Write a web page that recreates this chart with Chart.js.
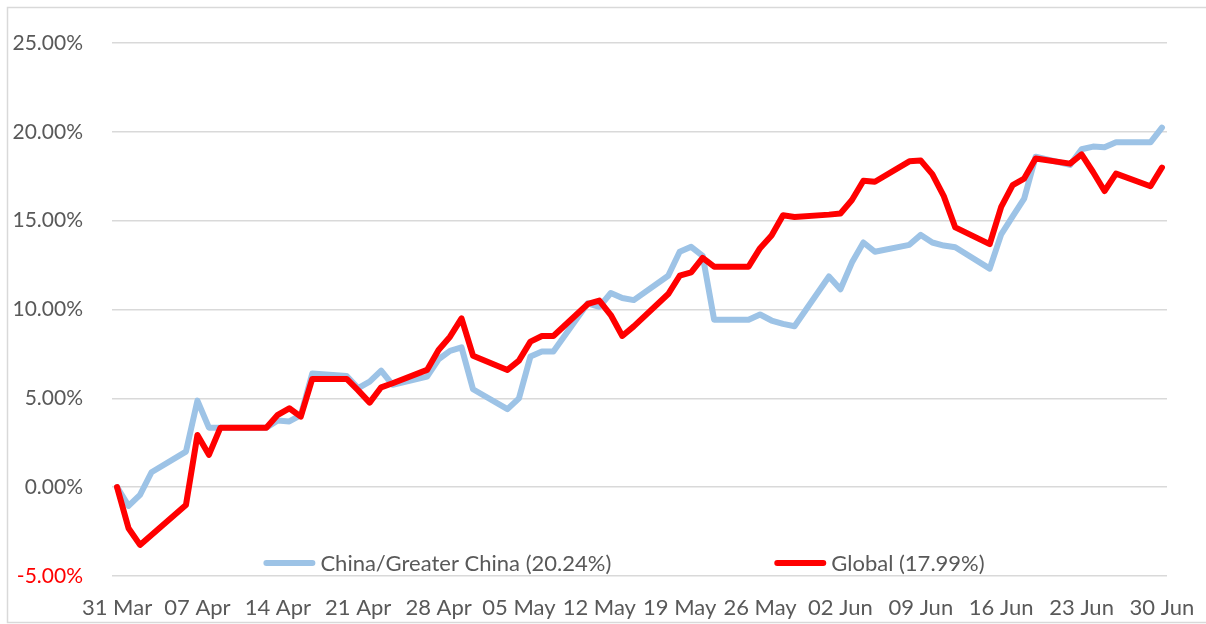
<!DOCTYPE html>
<html>
<head>
<meta charset="utf-8">
<script src="https://cdn.jsdelivr.net/npm/chart.js@4/dist/chart.umd.min.js"></script>
<style>
  html, body { margin: 0; padding: 0; background: #ffffff; }
  #wrap { width: 1206px; height: 624px; position: relative; }
</style>
</head>
<body>
<div id="wrap"><canvas id="c" width="1206" height="624"></canvas></div>
<script>
// ---- Data (day offsets from 31 Mar, values in %) ----
const tickDays   = [0, 7, 14, 21, 28, 35, 42, 49, 56, 63, 70, 77, 84, 91];
const tickLabels = ['31 Mar', '07 Apr', '14 Apr', '21 Apr', '28 Apr', '05 May', '12 May',
                    '19 May', '26 May', '02 Jun', '09 Jun', '16 Jun', '23 Jun', '30 Jun'];

const chinaLabel = 'China/Greater China (20.24%)';
const chinaDays = [0, 1, 2, 3, 6, 7, 8, 9, 10, 13, 14, 15, 16, 17, 20, 21, 22, 23, 24,
                   27, 28, 29, 30, 31, 34, 35, 36, 37, 38, 41, 42, 43, 44, 45, 48, 49, 50, 51, 52,
                   55, 56, 57, 58, 59, 62, 63, 64, 65, 66, 69, 70, 71, 72, 73, 76, 77, 78, 79, 80,
                   83, 84, 85, 86, 87, 90, 91];
const chinaValues = [0, -1.05, -0.43, 0.84, 2.0, 4.87, 3.35, 3.35, 3.35, 3.35, 3.75, 3.7, 4.05, 6.4, 6.26, 5.57, 5.94, 6.56, 5.76,
                     6.22, 7.2, 7.67, 7.87, 5.51, 4.39, 5.0, 7.35, 7.63, 7.63, 10.35, 10.15, 10.93, 10.65, 10.53, 11.9, 13.25, 13.53, 13.02, 9.42,
                     9.42, 9.72, 9.38, 9.19, 9.06, 11.86, 11.14, 12.64, 13.77, 13.25, 13.64, 14.2, 13.77, 13.6, 13.5, 12.3, 14.23, 15.24, 16.24, 18.6,
                     18.14, 19.02, 19.17, 19.13, 19.41, 19.41, 20.24];

const globalLabel = 'Global (17.99%)';
const globalDays = [0, 1, 2, 6, 7, 8, 9, 10, 13, 14, 15, 16, 17, 20, 21, 22, 23, 24,
                    27, 28, 29, 30, 31, 34, 35, 36, 37, 38, 41, 42, 43, 44, 45, 48, 49, 50, 51, 52,
                    55, 56, 57, 58, 59, 62, 63, 64, 65, 66, 69, 70, 71, 72, 73, 76, 77, 78, 79, 80,
                    83, 84, 85, 86, 87, 90, 91];
const globalValues = [0, -2.31, -3.25, -1.0, 2.94, 1.82, 3.35, 3.35, 3.35, 4.07, 4.44, 3.97, 6.09, 6.09, 5.45, 4.76, 5.62, 5.85,
                      6.6, 7.72, 8.47, 9.5, 7.4, 6.6, 7.12, 8.19, 8.51, 8.51, 10.31, 10.5, 9.69, 8.51, 9.05, 10.87, 11.9, 12.09, 12.9, 12.41,
                      12.41, 13.45, 14.17, 15.3, 15.21, 15.34, 15.4, 16.16, 17.25, 17.19, 18.34, 18.38, 17.62, 16.38, 14.62, 13.68, 15.78, 17.0, 17.37, 18.5,
                      18.21, 18.73, 17.74, 16.67, 17.65, 16.94, 17.99];

const FONT = 'Lato, "Open Sans", sans-serif';
const TEXT = '#595959';
const GRID = '#D9D9D9';
const BLUE = '#9DC3E6';
const RED  = '#FF0000';

const toPoints = (days, vals) => days.map((d, i) => ({ x: d, y: vals[i] }));

const backgroundPlugin = {
  id: 'bg',
  beforeDraw(chart) {
    const ctx = chart.ctx;
    ctx.save();
    ctx.fillStyle = '#ffffff';
    ctx.fillRect(0, 0, chart.width, chart.height);
    ctx.strokeStyle = GRID;
    ctx.lineWidth = 1.5;
    ctx.strokeRect(7.5, 7.5, chart.width + 10, chart.height - 9);
    ctx.restore();
  }
};

const legendPlugin = {
  id: 'overlayLegend',
  afterDatasetsDraw(chart) {
    const ctx = chart.ctx;
    const area = chart.chartArea;
    const sample = 52, gapText = 5, gapItems = 163;
    ctx.save();
    ctx.font = '22px ' + FONT;
    ctx.textBaseline = 'middle';
    ctx.textAlign = 'left';
    const items = chart.data.datasets.map(ds => ({
      label: ds.label, color: ds.borderColor, w: ctx.measureText(ds.label).width
    }));
    const total = items.reduce((s, it) => s + sample + gapText + it.w, 0) + gapItems * (items.length - 1);
    let x = 624 - total / 2;
    const y = area.bottom - 13;
    items.forEach(it => {
      ctx.strokeStyle = it.color;
      ctx.lineWidth = 6;
      ctx.lineCap = 'round';
      ctx.beginPath();
      ctx.moveTo(x + 3, y);
      ctx.lineTo(x + sample - 3, y);
      ctx.stroke();
      ctx.fillStyle = TEXT;
      ctx.fillText(it.label, x + sample + gapText, y + 1);
      x += sample + gapText + it.w + gapItems;
    });
    ctx.restore();
  }
};

new Chart(document.getElementById('c'), {
  type: 'line',
  data: {
    datasets: [
      {
        label: chinaLabel,
        data: toPoints(chinaDays, chinaValues),
        borderColor: BLUE,
        backgroundColor: BLUE,
        borderWidth: 6,
        pointRadius: 0,
        tension: 0,
        borderJoinStyle: 'round',
        borderCapStyle: 'round',
        order: 1
      },
      {
        label: globalLabel,
        data: toPoints(globalDays, globalValues),
        borderColor: RED,
        backgroundColor: RED,
        borderWidth: 6,
        pointRadius: 0,
        tension: 0,
        borderJoinStyle: 'round',
        borderCapStyle: 'round',
        order: 0
      }
    ]
  },
  options: {
    responsive: false,
    animation: false,
    devicePixelRatio: 1,
    layout: { padding: { top: 43, right: 39, bottom: 0, left: 0 } },
    plugins: {
      legend: { display: false },
      tooltip: { enabled: false }
    },
    scales: {
      x: {
        type: 'linear',
        min: -0.44,
        max: 91.44,
        afterBuildTicks(scale) { scale.ticks = tickDays.map(v => ({ value: v })); },
        afterFit(scale) { scale.height = 48; scale.paddingLeft = 0; scale.paddingRight = 0; },
        grid: { display: false, drawTicks: false },
        border: { display: false },
        ticks: {
          autoSkip: false,
          maxRotation: 0,
          padding: 19,
          color: TEXT,
          font: { family: FONT, size: 22 },
          callback: (value, index) => tickLabels[index]
        }
      },
      y: {
        min: -5,
        max: 25,
        afterFit(scale) { scale.width = 112; scale.paddingTop = 0; scale.paddingBottom = 0; },
        grid: { color: GRID, lineWidth: 1.5, drawTicks: false },
        border: { display: false },
        ticks: {
          stepSize: 5,
          padding: 29,
          color: (c) => (c.tick && c.tick.value < 0 ? RED : TEXT),
          font: { family: FONT, size: 21 },
          callback: (v) => v.toFixed(2) + '%'
        }
      }
    }
  },
  plugins: [backgroundPlugin, legendPlugin]
});
</script>
</body>
</html>
